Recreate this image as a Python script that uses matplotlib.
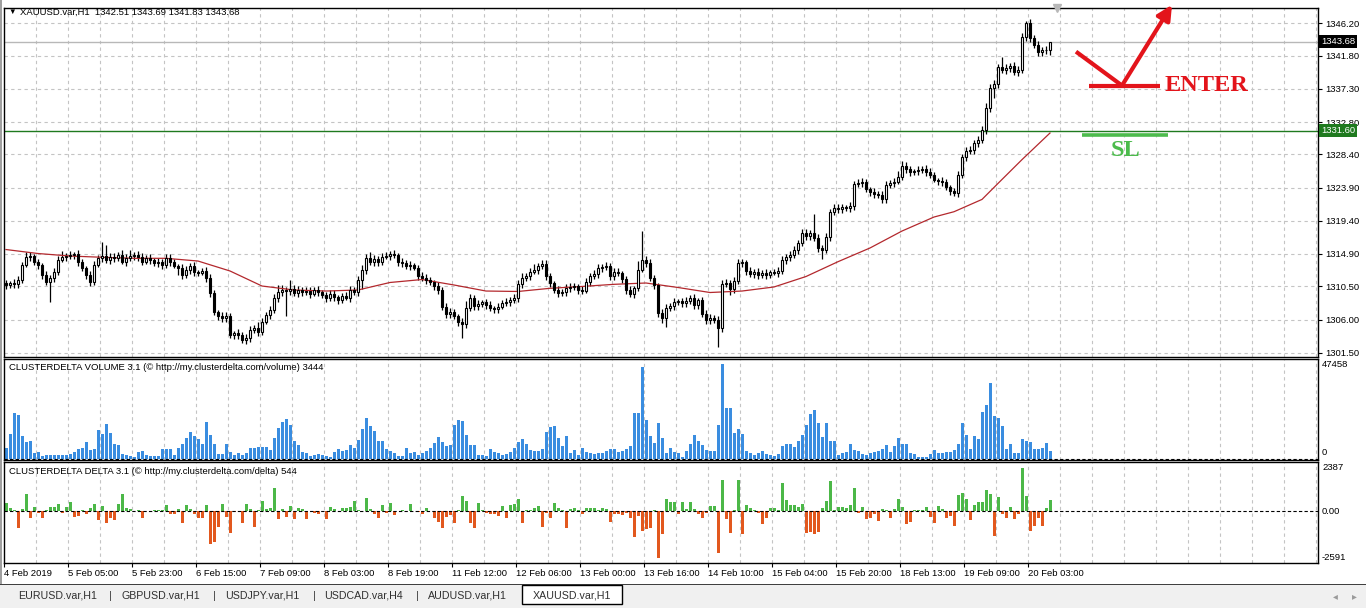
import matplotlib
matplotlib.use("Agg")
import matplotlib.pyplot as plt
import matplotlib.transforms as mtransforms
from matplotlib.patches import Rectangle
import numpy as np

plt.rcParams['font.family'] = ['Liberation Sans', 'DejaVu Sans']

# XAUUSD H1 closes, one per bar (4 Feb 2019 -> 20 Feb 2019)
closes = [
    1310.69, 1310.96, 1310.82, 1311.37, 1313.40, 1314.49, 1314.62, 1313.81, 1313.40, 1312.05,
    1311.10, 1311.64, 1312.45, 1314.08, 1314.49, 1314.62, 1314.76, 1314.89, 1313.81, 1313.00,
    1312.05, 1311.10, 1313.40, 1314.35, 1314.62, 1314.08, 1314.49, 1314.35, 1314.76, 1313.81,
    1314.35, 1314.62, 1314.76, 1314.49, 1313.81, 1314.35, 1314.08, 1313.67, 1313.81, 1313.40,
    1314.35, 1313.81, 1313.27, 1313.00, 1312.05, 1312.72, 1313.27, 1312.45, 1312.32, 1312.59,
    1311.64, 1309.60, 1307.02, 1306.48, 1306.21, 1306.48, 1303.90, 1304.17, 1303.90, 1303.23,
    1303.50, 1304.58, 1304.85, 1304.31, 1305.67, 1306.62, 1307.30, 1308.92, 1309.74, 1310.01,
    1309.87, 1310.15, 1309.60, 1310.01, 1309.74, 1309.87, 1309.47, 1310.01, 1309.74, 1309.33,
    1308.92, 1309.47, 1309.06, 1308.65, 1309.20, 1308.92, 1310.01, 1309.74, 1311.37, 1312.72,
    1314.35, 1313.81, 1314.22, 1313.81, 1314.49, 1314.62, 1314.89, 1314.76, 1313.81, 1313.67,
    1313.27, 1313.40, 1313.00, 1311.91, 1311.64, 1311.37, 1311.10, 1310.55, 1310.01, 1307.70,
    1306.75, 1307.02, 1306.48, 1305.67, 1305.40, 1307.57, 1308.92, 1307.84, 1308.11, 1308.38,
    1307.97, 1307.57, 1307.43, 1307.70, 1308.25, 1308.38, 1308.65, 1308.92, 1310.82, 1311.64,
    1311.91, 1312.45, 1312.72, 1313.27, 1313.54, 1311.91, 1310.96, 1310.01, 1309.60, 1309.74,
    1310.28, 1310.42, 1310.55, 1310.01, 1309.87, 1311.10, 1311.91, 1312.18, 1313.00, 1313.13,
    1313.27, 1311.91, 1312.45, 1312.32, 1311.50, 1310.01, 1309.47, 1310.28, 1312.72, 1314.08,
    1313.67, 1311.64, 1310.69, 1306.89, 1306.21, 1307.57, 1307.84, 1308.38, 1308.52, 1308.25,
    1308.52, 1308.92, 1307.97, 1308.65, 1306.75, 1305.94, 1306.21, 1305.94, 1304.85, 1310.82,
    1310.96, 1310.15, 1311.23, 1313.67, 1313.81, 1312.59, 1312.18, 1312.45, 1312.05, 1312.32,
    1312.05, 1312.45, 1312.32, 1312.59, 1314.08, 1314.49, 1314.76, 1315.44, 1316.39, 1317.74,
    1317.34, 1317.74, 1317.07, 1315.71, 1315.44, 1317.20, 1320.59, 1321.14, 1321.00, 1321.27,
    1321.14, 1321.41, 1324.39, 1324.53, 1324.66, 1323.71, 1323.31, 1323.04, 1322.90, 1322.36,
    1324.26, 1324.53, 1324.66, 1325.34, 1326.84, 1326.43, 1326.02, 1326.16, 1326.29, 1326.43,
    1326.02, 1325.61, 1324.94, 1324.80, 1324.66, 1323.99, 1323.44, 1323.17, 1325.61, 1328.06,
    1328.87, 1329.01, 1329.96, 1330.36, 1331.72, 1334.71, 1337.42, 1337.96, 1340.27, 1339.86,
    1340.13, 1340.40, 1339.59, 1339.86, 1344.34, 1346.24, 1344.20, 1343.25, 1342.30, 1342.58,
    1342.51, 1343.68,
]
first_open = 1310.90

# wick lengths above / below the candle body
wick_up = [
    .4, .3, .6, .5, .4, .7, .6, .3, .4, .3, .5, .4, .6, .5, .8, .4, .5, .3, .6, .4,
    .3, .5, .6, .4, 1.9, 1.5, .5, .6, .4, .7, .5, .8, .4, .6, .5, .4, .6, .3, .5, .4,
    .6, .5, .4, .3, .5, .6, .4, .5, .3, .4, .6, .5, .4, .3, .6, .5, .4, .3, .5, .4,
    .6, .5, .4, .8, .5, .4, .6, .5, .9, .7, .4, 1.2, .6, .5, .4, .5, .6, .4, .5, .3,
    .4, .6, .5, .3, .4, .5, .6, .4, .5, .7, .6, .8, .5, .4, .6, .5, .4, .6, .3, .5,
    .4, .5, .3, .4, .6, .5, .4, .3, .5, .4, .6, .5, .4, .3, .5, .9, .6, .4, .5, .3,
    .4, .5, .3, .6, .4, .5, .4, .6, .5, .7, .4, .5, .8, .4, .6, .5, .4, .3, .5, .4,
    .6, .5, .4, .3, .5, .6, .4, .5, .6, .4, .5, .4, .6, .5, .3, .4, .5, .3, 1.2, 3.9,
    .6, .5, .4, .3, .5, .6, .4, .5, .3, .4, .5, .4, .6, .3, .4, .5, .6, .4, .5, .6,
    .5, .4, .6, .5, .4, .3, .5, .4, .6, .4, .5, .3, .4, .6, .5, .4, .6, .5, .4, .5,
    .6, .4, 2.6, .5, .4, .5, .4, .6, .5, .4, .3, .5, .4, .6, .5, .4, .3, .5, .4, .6,
    .5, .4, .5, .8, .7, .5, .4, .3, .5, .4, .6, .5, .4, .3, .5, .4, .3, .4, .5, .4,
    .6, .5, .4, .5, .6, .7, .5, .6, .4, 1.4, .5, .4, .6, .5, .5, .3, .5, .4, .6, .4,
    .5, .01,
]
wick_dn = [
    .5, .4, .6, .5, .4, .3, .5, .4, .6, .5, .4, 2.7, .5, .4, .3, .5, .4, .6, .5, .4,
    .5, .6, .4, .3, .5, .4, .6, .5, .4, .3, .5, .4, .6, .5, .4, .3, .5, .4, .6, .5,
    .4, .5, .3, .9, .5, .4, .6, .5, .4, .3, .5, .6, .4, .5, .6, .5, .4, .6, .5, .4,
    .5, .6, .4, .5, .4, .3, .5, .4, .5, .6, 3.4, .5, .4, .6, .5, .4, .5, .3, .6, .4,
    .5, .4, .6, .5, .4, .3, .5, .4, .6, 1.2, .5, .4, .6, .5, .4, .3, .5, .4, .6, .5,
    .4, .5, .3, .6, .4, .5, .4, .6, .5, .4, .5, .6, .4, .5, 1.9, .5, .4, .6, .5, .4,
    .5, .4, .6, .5, .3, .4, .5, .4, .6, .5, .4, .5, .3, .6, .4, .5, .6, .4, .5, .4,
    .5, .6, .4, .5, .4, .3, .5, .4, .6, .5, .4, .5, .6, .4, .5, .6, .4, .5, .4, .3,
    .5, .4, .6, .5, .7, 1.2, .4, .5, .4, .6, .5, .4, .6, .5, .4, .5, .6, .4, 2.6, .5,
    .4, .8, .5, .4, .6, .5, .4, .5, .6, .4, .5, .4, .3, .5, .4, .6, .5, .4, .5, .4,
    .5, .6, .4, .5, 1.2, .4, .5, .4, .6, .5, .4, .5, .6, .4, .5, .4, .6, .5, .4, .5,
    .6, .4, .5, .3, .4, .5, .6, .4, .5, .4, .5, .4, .3, .5, .6, .4, .5, .4, .5, .4,
    .5, .4, .6, .5, .4, .5, .6, 1.4, .5, .4, .5, .6, .4, .5, .4, .5, .6, .4, .5, .6,
    .5, .68,
]

# moving average at selected bars
ma_bars = [0, 8, 16, 24, 32, 40, 48, 56, 64, 72, 80, 88, 96, 104, 112, 120, 128,
           136, 144, 152, 160, 168, 176, 184, 192, 200, 208, 216, 224, 232, 237, 244,
           248, 254, 261]
ma_values = [1315.50, 1314.96, 1314.62, 1314.45, 1314.31, 1314.31, 1313.94, 1312.59, 1310.55,
             1310.01, 1309.87, 1310.01, 1311.03, 1311.43, 1310.69, 1309.87, 1309.81, 1310.24,
             1310.49, 1310.78, 1310.96, 1310.35, 1309.67, 1309.87, 1310.42, 1311.84, 1313.85,
             1315.71, 1318.01, 1319.91, 1320.63, 1322.30, 1324.47, 1327.70, 1331.31]

volume = [
    5500, 12500, 23000, 22000, 11300, 8500, 9200, 3000, 3500, 1300,
    1800, 2200, 1800, 2200, 1800, 2200, 2500, 3500, 5200, 5500,
    8500, 4700, 5200, 14700, 12500, 17500, 13000, 7500, 7200, 2500,
    1800, 1500, 800, 3500, 4200, 1800, 1300, 1300, 1300, 5200, 5000,
    5000, 2200, 5500, 7500, 10500, 13500, 11300, 10200, 7500, 18500,
    12200, 7500, 2500, 2500, 7500, 3500, 2200, 3000, 2200, 3000,
    5500, 5600, 5800, 5800, 5800, 4700, 10500, 15500, 18500, 20200, 17200,
    9200, 7200, 3500, 3000, 1300, 2200, 2500, 2200, 1300, 800,
    3500, 5200, 4200, 4700, 7200, 5500, 9700, 15200, 20500, 16300,
    13800, 9200, 9200, 5000, 3800, 3000, 1300, 1300, 5500, 3000, 3500,
    1800, 3000, 3800, 5500, 8000, 10800, 8500, 6300, 7200, 16800,
    19700, 19200, 12200, 7200, 7200, 2200, 2200, 1300, 5000, 3500,
    3000, 1800, 2500, 3500, 5500, 8500, 10200, 7500, 4700, 3800,
    4200, 5000, 13500, 15800, 16700, 10500, 6300, 11300,
    3000, 4700, 1800, 5500, 3300, 3000, 2500, 3000, 3000,
    3800, 5200, 5200, 3500, 3800, 5200, 6300, 23000, 23000, 45800, 19700, 11300,
    8000, 18000, 10500, 3000, 5500, 3500, 3000, 800, 3800, 7500, 12200, 9000,
    7200, 4700, 4200, 4200, 17200, 47458, 25500, 25500, 13000,
    15200, 12500, 3800, 3000, 1800, 3000, 3800, 2500, 1800, 1300,
    2500, 6300, 7500, 7500, 5800, 8800, 11800, 16800, 22500, 24700,
    18000, 10800, 18000, 9200, 9200, 1800, 3000, 3500, 7500, 4700,
    3800, 2500, 2200, 3000, 3300, 4200, 5200, 6800, 3500, 6300, 10500,
    7500, 7500, 3000, 2500, 800, 800, 1000, 2500, 4700, 3000, 3000,
    3500, 3500, 4700, 7500, 18000, 11800, 5200, 11300, 10200, 23500,
    27200, 38000, 21300, 20500, 16300, 5200, 7500, 3000, 3000, 10200,
    9200, 8500, 5200, 5200, 5500, 8000, 3800,
]

delta = [
    425, 150, 30, -960, 110, 925, -370, 220, -130, -370,
    30, 200, 240, 370, -130, 220, 520, -315, -260, 50,
    -185, 185, 390, -520, 280, -685, -400, -500, 390, 945,
    185, 110, 20, 30, -400, 20, -20, 60, 40, 50,
    330, -150, -185, 90, -685, 330, 110, -185, -400, -370,
    330, -1850, -1740, -870, 390, -315, -1240, -40, 20, -685,
    390, 110, -870, 30, 575, 110, 150, 1295, -460, 110,
    -315, 280, -460, 185, 110, -460, 20, -130, -185, 20,
    -440, 200, 110, 20, 150, 185, 240, 575, 40, 20,
    700, 110, -185, -370, 330, -130, 460, -220, 20, 40,
    20, 390, 20, -30, -150, 150, 20, -400, -590, -960,
    -315, -220, -685, 40, 830, 575, -685, -925, 425, 40,
    -130, -150, -185, -280, 300, -370, 330, 390, 650, -685,
    40, 50, 150, 280, -870, -130, -370, 445, 185, 30,
    -960, 110, 150, 30, -185, 150, 150, 150, 30, 185,
    110, -590, -185, -185, -220, -130, -370, -1425, -280, -1090,
    -1020, -925, 40, -2591, -1275, 665, 480, 520, -185, 520,
    110, 520, 110, -185, -370, -130, 280, 300, -2310, 1720,
    -460, -1200, 30, 1720, -1275, 330, 185, 30, -130, -700,
    -370, 150, 185, 30, 1535, 610, 330, 330, 240, 370,
    -1200, -1150, -1295, -1150, 150, 555, 1665, 60, 240, 240,
    185, 330, 1260, -130, 240, -460, -400, -185, -540, 110,
    60, -370, 110, 665, 240, -740, -630, 30, 30, 30,
    200, -315, -650, 280, 110, -370, -260, -815, 890, 1000,
    665, -500, 330, 480, 520, 1165, 925, -1370, 760, -185,
    -400, 200, -460, -185, 2387, 830, -1090, -815, -370, -815,
    185, 610,
]

price_ticks = [1346.20, 1341.80, 1337.30, 1332.80, 1328.40, 1323.90,
               1319.40, 1314.90, 1310.50, 1306.00, 1301.50]
time_labels = ['4 Feb 2019', '5 Feb 05:00', '5 Feb 23:00', '6 Feb 15:00', '7 Feb 09:00',
               '8 Feb 03:00', '8 Feb 19:00', '11 Feb 12:00', '12 Feb 06:00', '13 Feb 00:00',
               '13 Feb 16:00', '14 Feb 10:00', '15 Feb 04:00', '15 Feb 20:00', '18 Feb 13:00',
               '19 Feb 09:00', '20 Feb 03:00']
tabs = ['EURUSD.var,H1', 'GBPUSD.var,H1', 'USDJPY.var,H1', 'USDCAD.var,H4',
        'AUDUSD.var,H1', 'XAUUSD.var,H1']

last_price = 1343.68
sl_price = 1331.60
enter_level = 1337.75
sl_mark = 1331.05

opens = [first_open] + closes[:-1]
highs = [max(o, c) + w for o, c, w in zip(opens, closes, wick_up)]
lows = [min(o, c) - w for o, c, w in zip(opens, closes, wick_dn)]
n = len(closes)
x = np.arange(n)

W, H = 1366, 608
fig = plt.figure(figsize=(W / 100, H / 100), dpi=100)
fig.patch.set_facecolor('white')


def px_axes(x0, y0, x1, y1):
    return fig.add_axes([x0 / W, 1 - y1 / H, (x1 - x0) / W, (y1 - y0) / H])


def ftext(px, py, s, **kw):
    return fig.text(px / W, 1 - py / H, s, **kw)


ax = px_axes(4, 8, 1318, 357)
axv = px_axes(4, 359, 1318, 460)
axd = px_axes(4, 462, 1318, 563)

xmin, xmax = -0.5, 328.0
grid_x = np.arange(7.5, xmax, 8)
for a in (ax, axv, axd):
    a.set_xlim(xmin, xmax)
    a.set_facecolor('white')
    for s in a.spines.values():
        s.set_color('black')
        s.set_linewidth(1)
    a.vlines(grid_x, 0, 1, transform=a.get_xaxis_transform(), colors='#c4c4c4',
             linestyles=(0, (3, 3)), linewidth=0.8, zorder=0)

# ---- price panel
ax.set_ylim(1300.92, 1348.27)
ax.hlines(price_ticks, xmin, xmax, colors='#c4c4c4', linestyles=(0, (3, 3)), linewidth=0.8, zorder=0)
ax.axhline(last_price, color='#b8b8b8', lw=1, zorder=1)
ax.axhline(sl_price, color='#1f7a1f', lw=1, zorder=1)

ax.vlines(x, lows, highs, colors='black', linewidth=0.9, zorder=2)
body_bottom = np.minimum(opens, closes)
body_h = np.maximum(np.abs(np.array(closes) - np.array(opens)), 0.07)
body_col = ['white' if c >= o else 'black' for o, c in zip(opens, closes)]
ax.bar(x, body_h, bottom=body_bottom, width=0.66, color=body_col, edgecolor='black',
       linewidth=0.8, zorder=3)
ax.plot(ma_bars, ma_values, color='#b3282d', lw=0.9, zorder=2)

ax.yaxis.tick_right()
ax.set_yticks(price_ticks)
ax.set_yticklabels([f'{p:.2f}' for p in price_ticks])
ax.tick_params(axis='y', length=3, labelsize=6.8, pad=2)
ax.set_xticks([])

bt = mtransforms.blended_transform_factory(ax.transAxes, ax.transData)
ax.text(1 + 3 / 1314, last_price, f'{last_price:.2f}', transform=bt, fontsize=6.8,
        color='white', va='center', ha='left',
        bbox=dict(boxstyle='square,pad=0.2', fc='black', ec='none'))
ax.text(1 + 3 / 1314, sl_price, f'{sl_price:.2f}', transform=bt, fontsize=6.8,
        color='white', va='center', ha='left',
        bbox=dict(boxstyle='square,pad=0.2', fc='#1f7a1f', ec='none'))

# small shift marker at the top
ax.plot([262.8], [1348.27], marker='v', ms=6, color='#b8b8b8', clip_on=False, zorder=5)

# ---- hand-drawn trade annotation
red = '#e3141b'
ax.plot([267.5, 279.0], [1342.35, enter_level], color=red, lw=3, solid_capstyle='butt',
        clip_on=False, zorder=6)
ax.annotate('', xy=(291.5, 1348.7), xytext=(279.0, enter_level),
            arrowprops=dict(arrowstyle='-|>', color=red, lw=3, mutation_scale=22,
                            shrinkA=0, shrinkB=0), annotation_clip=False, zorder=6)
ax.plot([270.8, 288.5], [enter_level, enter_level], color=red, lw=3, solid_capstyle='butt',
        zorder=6)
ax.text(289.7, enter_level, 'ENTER', color=red, fontsize=17.5, fontweight='bold',
        family=['Liberation Serif', 'DejaVu Serif'], va='center', ha='left', zorder=6)
green = '#4cbb4c'
ax.plot([269.0, 290.6], [sl_mark, sl_mark], color=green, lw=2.6, solid_capstyle='butt', zorder=6)
ax.text(279.8, 1329.0, 'SL', color=green, fontsize=17.5, fontweight='bold',
        family=['Liberation Serif', 'DejaVu Serif'], va='center', ha='center', zorder=6)

# ---- volume panel (3 px bars on whole pixels, 1 px gap)
axv.set_ylim(-500, 49960)
axv.bar(x - 0.25, volume, width=0.75, align='edge', color='#3a8de0', linewidth=0,
        antialiased=False, zorder=2)
axv.axhline(0, color='black', lw=0.8, ls=(0, (3, 2)), zorder=3)
axv.set_xticks([])
axv.set_yticks([])
bv = mtransforms.blended_transform_factory(axv.transAxes, axv.transData)
axv.text(1 + 4 / 1314, max(volume), str(max(volume)), transform=bv, fontsize=6.8, va='center')
axv.text(1 + 4 / 1314, 800, '0', transform=bv, fontsize=6.8, va='bottom')

# ---- delta panel
axd.set_ylim(-2886, 2720)
dcol = ['#4cb848' if d > 0 else '#e2581e' for d in delta]
axd.bar(x - 0.25, delta, width=0.75, align='edge', color=dcol, linewidth=0,
        antialiased=False, zorder=2)
axd.axhline(0, color='black', lw=0.8, ls=(0, (3, 2)), zorder=3)
axd.set_yticks([])
bd = mtransforms.blended_transform_factory(axd.transAxes, axd.transData)
for val, lab in [(max(delta), str(max(delta))), (0, '0.00'), (min(delta), str(min(delta)))]:
    axd.text(1 + 4 / 1314, val, lab, transform=bd, fontsize=6.8, va='center')

axd.set_xticks(np.arange(len(time_labels)) * 16 - 0.5)
axd.set_xticklabels(time_labels)
for t in axd.get_xticklabels():
    t.set_ha('left')
axd.tick_params(axis='x', length=3, labelsize=6.8, pad=1.5)

# ---- indicator captions and title
ftext(9, 367, 'CLUSTERDELTA VOLUME 3.1 (\u00a9 http://my.clusterdelta.com/volume) 3444',
      fontsize=6.8, va='center')
ftext(9, 471, 'CLUSTERDELTA DELTA 3.1 (\u00a9 http://my.clusterdelta.com/delta) 544',
      fontsize=6.8, va='center')
ftext(8, 12, '\u25bc', fontsize=5.5, va='center')
ftext(20, 12, 'XAUUSD.var,H1  1342.51 1343.69 1341.83 1343.68', fontsize=6.8, va='center')

# ---- window frame and symbol tabs
fig.patches.append(Rectangle((0, 0), 2 / W, 1, transform=fig.transFigure, fc='#a0a0a0',
                             ec='none', zorder=0))
fig.patches.append(Rectangle((0, 0), 1, 23 / H, transform=fig.transFigure, fc='#f0f0f0',
                             ec='none', zorder=0))
fig.patches.append(Rectangle((0, 23 / H), 1, 1.5 / H, transform=fig.transFigure, fc='#404040',
                             ec='none', zorder=1))
fig.patches.append(Rectangle((522 / W, 4 / H), 100 / W, 19.5 / H, transform=fig.transFigure,
                             fc='white', ec='black', lw=1, zorder=2))
tab_x = [18, 121, 225, 324, 428, 533]
sep_x = [110, 214, 314, 417]
for tx, name in zip(tab_x, tabs):
    ftext(tx, 596, name, fontsize=7.7, color='#303030', va='center', zorder=3)
for sx in sep_x:
    ftext(sx, 596, '|', fontsize=8, color='#404040', va='center', ha='center')
ftext(1335, 596, '\u25c2', fontsize=7, color='#9a9a9a', va='center', ha='center',
      family=['DejaVu Sans'])
ftext(1354, 596, '\u25b8', fontsize=7, color='#9a9a9a', va='center', ha='center',
      family=['DejaVu Sans'])

fig.savefig('out.png', dpi=100, facecolor='white')
